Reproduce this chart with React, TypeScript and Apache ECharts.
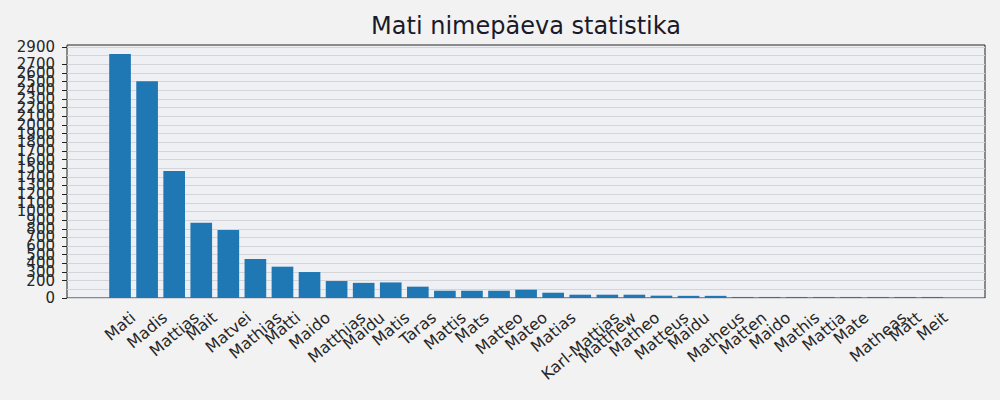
import React, { useEffect, useRef } from "react";
import * as echarts from "echarts";

const categories = [
  "Mati", "Madis", "Mattias", "Mait", "Matvei", "Mathias", "Matti", "Maido",
  "Matthias", "Maidu", "Matis", "Taras", "Mattis", "Mats", "Matteo", "Mateo",
  "Matias", "Karl-Mattias", "Matthew", "Matheo", "Matteus", "Maidu", "Matheus",
  "Matten", "Maido", "Mathis", "Mattia", "Mate", "Matheas", "Matt", "Meit",
];

const counts = [
  2820, 2505, 1467, 870, 786, 451, 362, 300,
  196, 175, 180, 131, 84, 84, 84, 96,
  61, 38, 38, 38, 27, 25, 25,
  12, 12, 12, 12, 12, 12, 12, 12,
];

const yTicks = [
  0, 100, 200, 300, 400, 500, 600, 700, 800, 900, 1000, 1100, 1200, 1300, 1400,
  1500, 1600, 1700, 1800, 1900, 2000, 2100, 2200, 2300, 2400, 2500, 2600, 2700,
  2800, 2900,
];

const TITLE = "Mati nimepäeva statistika";
const FONT = '"DejaVu Sans", "Noto Sans", sans-serif';
const Y_MAX = 2923;
const ROT = 40;
const X_FONT = 16;

// matplotlib centres the rotated label's bounding box under the tick,
// echarts pins one point of it, so push each label down with padding
function labelRich() {
  const ctx = document.createElement("canvas").getContext("2d");
  if (ctx) ctx.font = `${X_FONT}px ${FONT}`;
  const a = (ROT * Math.PI) / 180;
  const h = X_FONT * 1.17;
  const rich: Record<string, any> = {};
  categories.forEach((name, i) => {
    const w = ctx ? ctx.measureText(name).width : name.length * 9;
    const d = (w * Math.sin(a) + h * Math.cos(a)) / 2;
    rich["l" + i] = {
      fontSize: X_FONT,
      fontFamily: FONT,
      color: "#262626",
      padding: [2 * d * Math.cos(a), 2 * d * Math.sin(a), 0, 0],
    };
  });
  return rich;
}

export default function App() {
  const chartRef = useRef<HTMLDivElement>(null);

  useEffect(() => {
    if (!chartRef.current) return;
    const chart = echarts.init(chartRef.current, null, { renderer: "svg" });

    const option = {
      animation: false,
      backgroundColor: "#f2f2f2",
      textStyle: { fontFamily: FONT },
      graphic: [
        {
          type: "text",
          x: 526,
          y: 14,
          style: {
            text: TITLE,
            font: `24px ${FONT}`,
            fill: "#1a1a2a",
            textAlign: "center",
            textVerticalAlign: "top",
          },
        },
      ],
      grid: [
        {
          // frame + y axis
          left: 67, right: 15, top: 45, bottom: 102,
          show: true,
          backgroundColor: "#eff0f3",
          borderColor: "#222",
          borderWidth: 1,
          outerBoundsMode: "none",
        },
        {
          // bars, inset like matplotlib's x margins
          left: 106.5, right: 54.3, top: 45, bottom: 102,
          outerBoundsMode: "none",
        },
      ],
      xAxis: [
        { type: "value", gridIndex: 0, min: 0, max: 1, show: false },
        {
          type: "category",
          gridIndex: 1,
          data: categories,
          axisLine: { show: false },
          axisTick: { alignWithLabel: true, length: 5, lineStyle: { color: "#222" } },
          axisLabel: {
            interval: 0,
            rotate: ROT,
            margin: 10,
            align: "center",
            verticalAlign: "middle",
            fontSize: X_FONT,
            fontFamily: FONT,
            color: "#262626",
            hideOverlap: false,
            formatter: (v: string, i: number) => `{l${i}|${v}}`,
            rich: labelRich(),
          },
        },
      ],
      yAxis: [
        {
          type: "value",
          gridIndex: 0,
          min: 0,
          max: Y_MAX,
          interval: 100,
          axisLine: { show: false },
          axisTick: { show: true, length: 5, customValues: yTicks, lineStyle: { color: "#222" } },
          axisLabel: {
            customValues: yTicks,
            showMinLabel: true,
            showMaxLabel: true,
            hideOverlap: false,
            margin: 12,
            fontSize: 15,
            fontFamily: FONT,
            color: "#262626",
            formatter: (v: number) => (v % 100 === 0 ? String(v) : ""),
          },
          splitLine: { show: true, lineStyle: { color: "#d3d5da", width: 1 } },
        },
        { type: "value", gridIndex: 1, min: 0, max: Y_MAX, show: false, splitLine: { show: false } },
      ],
      series: [
        {
          type: "bar",
          xAxisIndex: 1,
          yAxisIndex: 1,
          data: counts,
          barWidth: "80%",
          itemStyle: { color: "#1f77b4" },
        },
      ],
    };

    chart.setOption(option as any);
    return () => chart.dispose();
  }, []);

  return (
    <div
      ref={chartRef}
      style={{ position: "fixed", left: 0, top: 0, width: "1000px", height: "400px" }}
    />
  );
}
